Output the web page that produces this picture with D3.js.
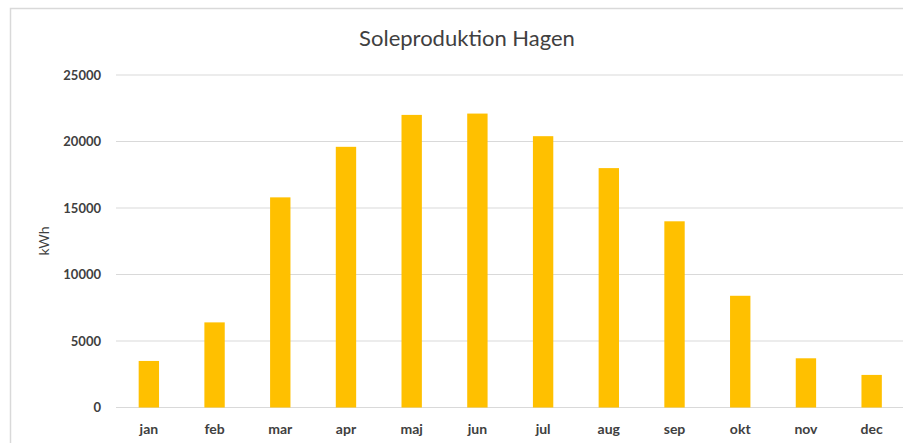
<!DOCTYPE html>
<html>
<head>
<meta charset="utf-8">
<script src="https://cdn.jsdelivr.net/npm/d3@7"></script>
<style>
  body { margin: 0; background: #fff; }
  text { font-family: "Lato", "Open Sans", sans-serif; }
</style>
</head>
<body>
<div id="chart"></div>
<script>
// data
var months = ["jan", "feb", "mar", "apr", "maj", "jun", "jul", "aug", "sep", "okt", "nov", "dec"];
var production = [3500, 6400, 15800, 19600, 22000, 22100, 20400, 18000, 14000, 8400, 3700, 2450];
var yTicks = [0, 5000, 10000, 15000, 20000, 25000];

var svgWidth = 903;
var svgHeight = 443;

var svg = d3.select("#chart")
    .append("svg")
    .attr("width", svgWidth)
    .attr("height", svgHeight);

// chart frame (cut off on the right like the screenshot)
svg.append("rect")
    .attr("x", 10.5)
    .attr("y", 8.5)
    .attr("width", 920)
    .attr("height", 460)
    .attr("fill", "#fff")
    .attr("stroke", "#d9d9d9")
    .attr("stroke-width", 1.5);

// scales
var x = d3.scaleBand()
    .domain(months)
    .range([116, 904.5])
    .paddingInner(0.69)
    .paddingOuter(0.345);

var y = d3.scaleLinear()
    .domain([0, 25000])
    .range([407.5, 75]);

// gridlines
svg.append("g")
    .selectAll("line")
    .data(yTicks)
    .enter()
    .append("line")
    .attr("x1", 116)
    .attr("x2", 903)
    .attr("y1", d => y(d))
    .attr("y2", d => y(d))
    .attr("stroke", "#d9d9d9")
    .attr("stroke-width", 1.2);

// y axis labels
var yAxis = d3.axisLeft(y).tickValues(yTicks).tickFormat(d3.format("d")).tickSize(0).tickPadding(0);
svg.append("g")
    .attr("transform", "translate(101,0)")
    .call(yAxis)
    .call(g => g.select(".domain").remove())
    .selectAll("text")
    .attr("font-family", "Lato, 'Open Sans', sans-serif")
    .attr("font-size", 13)
    .attr("font-weight", "bold")
    .attr("fill", "#404040");

// bars
svg.append("g")
    .selectAll("rect")
    .data(production)
    .enter()
    .append("rect")
    .attr("x", (d, i) => x(months[i]))
    .attr("width", x.bandwidth())
    .attr("y", d => y(d))
    .attr("height", d => y(0) - y(d))
    .attr("fill", "#ffc000");

// x axis labels
var xAxis = d3.axisBottom(x).tickSize(0).tickPadding(0);
svg.append("g")
    .attr("transform", "translate(0,424)")
    .call(xAxis)
    .call(g => g.select(".domain").remove())
    .selectAll("text")
    .attr("font-family", "Lato, 'Open Sans', sans-serif")
    .attr("font-size", 14)
    .attr("font-weight", "bold")
    .attr("fill", "#404040");

// title
svg.append("text")
    .attr("x", 467)
    .attr("y", 46)
    .attr("text-anchor", "middle")
    .attr("font-size", 22)
    .attr("fill", "#404040")
    .text("Soleproduktion Hagen");

// y label
svg.append("text")
    .attr("transform", "translate(49,241) rotate(-90)")
    .attr("text-anchor", "middle")
    .attr("font-size", 14)
    .attr("fill", "#404040")
    .text("kWh");
</script>
</body>
</html>
